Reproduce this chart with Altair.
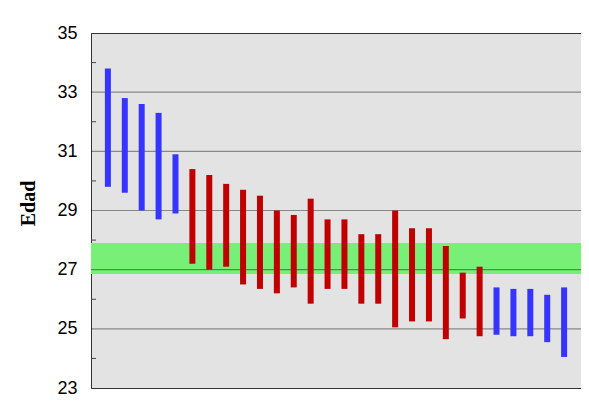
import altair as alt
import pandas as pd

# Bars: index, low, high, group
idx = list(range(1, 29))
low = [29.8, 29.6, 29.0, 28.7, 28.9,
       27.2, 27.0, 27.1, 26.5, 26.35, 26.2, 26.4, 25.85, 26.35, 26.35, 25.85, 25.85,
       25.05, 25.25, 25.25, 24.65, 25.35, 24.75,
       24.8, 24.75, 24.75, 24.55, 24.05]
high = [33.8, 32.8, 32.6, 32.3, 30.9,
        30.4, 30.2, 29.9, 29.7, 29.5, 29.0, 28.85, 29.4, 28.7, 28.7, 28.2, 28.2,
        29.0, 28.4, 28.4, 27.8, 26.9, 27.1,
        26.4, 26.35, 26.35, 26.15, 26.4]
group = ["azul"] * 5 + ["rojo"] * 18 + ["azul"] * 5

band_lo = [26.85]
band_hi = [27.9]
grid_vals = [25, 27, 29, 31, 33]
minor_vals = [24, 26, 28, 30, 32, 34]
tick_vals = [23, 25, 27, 29, 31, 33, 35]

bars_df = pd.DataFrame({"i": idx, "lo": low, "hi": high, "g": group})
band_df = pd.DataFrame({"lo": band_lo, "hi": band_hi})
grid_df = pd.DataFrame({"v": grid_vals})
minor_df = pd.DataFrame({"v": minor_vals})

W, H = 490, 355
yscale = alt.Scale(domain=[23, 35], nice=False, zero=False, padding=0)
xscale = alt.Scale(domain=[0, 29], nice=False, zero=False, padding=0)

yaxis = alt.Axis(
    values=tick_vals, grid=False, ticks=False, domain=True, domainColor="#333333",
    labelFont="Liberation Sans", labelFontSize=18, labelColor="black", labelPadding=14,
    title="Edad", titleFont="Liberation Serif", titleFontSize=20, titleFontWeight="bold",
    titleColor="black", titleX=-63, titleY=170, titleAngle=-90,
    titleAlign="center", titleBaseline="middle")

band = alt.Chart(band_df).mark_rect(color="#78f078").encode(
    y=alt.Y("lo:Q", scale=yscale, axis=yaxis, title="Edad"),
    y2="hi:Q",
    x=alt.value(0), x2=alt.value(W),
)

grid = alt.Chart(grid_df).mark_rule(color="black", opacity=0.4, strokeWidth=1.2).encode(
    y=alt.Y("v:Q", scale=yscale, axis=yaxis, title="Edad"),
    x=alt.value(0), x2=alt.value(W),
)

minor = alt.Chart(minor_df).mark_rule(color="#444444", strokeWidth=1).encode(
    y=alt.Y("v:Q", scale=yscale, axis=yaxis, title="Edad"),
    x=alt.value(0), x2=alt.value(5),
)

bars = alt.Chart(bars_df).mark_bar(size=6).encode(
    x=alt.X("i:Q", scale=xscale, axis=None),
    y=alt.Y("lo:Q", scale=yscale, axis=yaxis, title="Edad"),
    y2="hi:Q",
    color=alt.Color("g:N", scale=alt.Scale(domain=["azul", "rojo"], range=["#3535ff", "#c00000"]), legend=None),
)

chart = alt.layer(band, grid, minor, bars).properties(
    width=W, height=H,
    background="white",
    autosize=alt.AutoSizeParams(type="none"),
    padding={"left": 83, "top": 25, "right": 0, "bottom": 13},
).configure_view(fill="#e3e3e3", stroke="#333333", strokeWidth=1)

chart.save("out.html", embed_options={"renderer": "svg", "actions": False})
